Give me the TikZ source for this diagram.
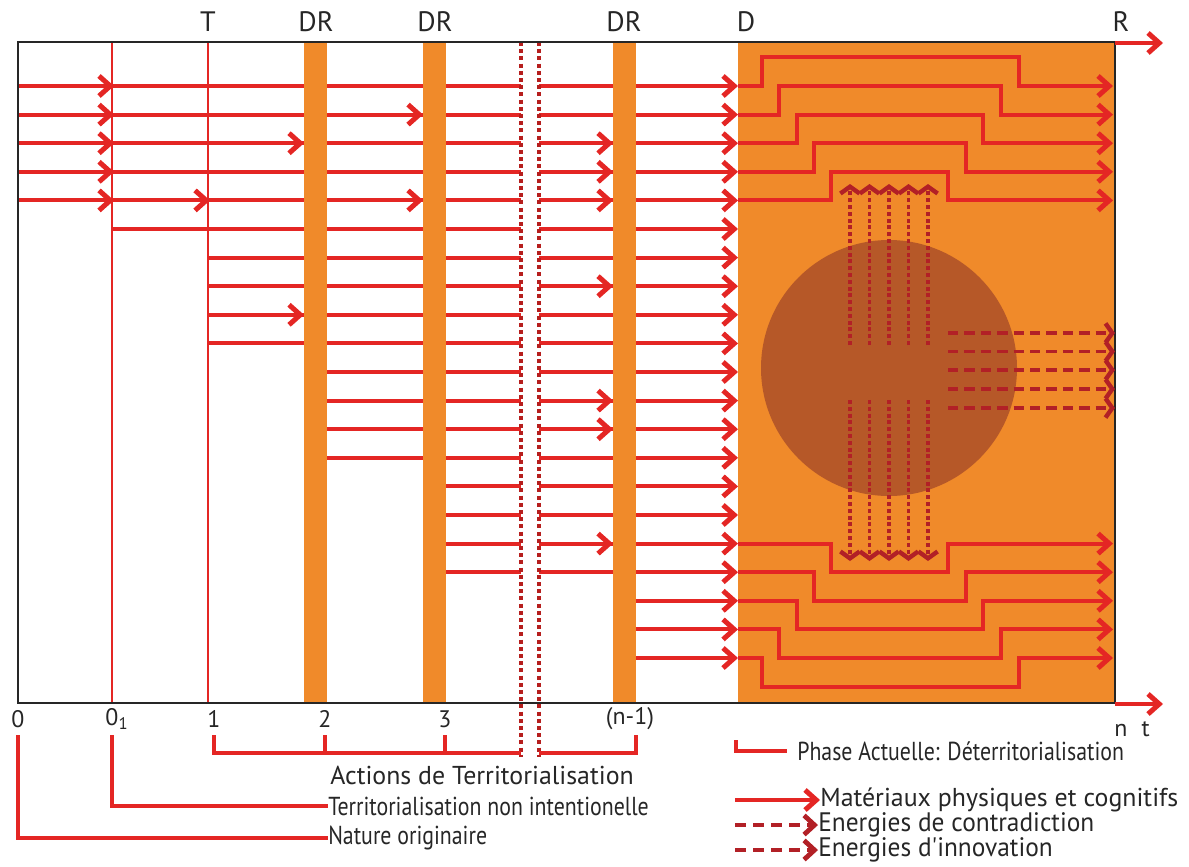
\documentclass[tikz,border=0pt]{standalone}
\usepackage{fontspec}
\setmainfont{PT Sans}
\newfontfamily\condfont{PT Sans}[FakeStretch=0.84]
\newfontfamily\legfont{PT Sans}[FakeStretch=0.95]
\usetikzlibrary{arrows.meta}
\definecolor{matred}{RGB}{228,38,36}
\definecolor{enered}{RGB}{178,32,38}
\definecolor{dorange}{RGB}{240,138,42}
\definecolor{circbrn}{RGB}{182,88,40}
\tikzset{
  mat/.style    ={matred, line width=2.8pt,
                  -{Straight Barb[length=2.8mm, width=5mm, line width=1.25mm]}},
  matln/.style  ={matred, line width=2.8pt},
  thinr/.style  ={matred, line width=1.2pt},
  frm/.style    ={black!85, line width=1.4pt},
  barr/.style   ={fill=dorange, draw=none},
  cutl/.style   ={matred!80!black, line width=2.5pt,
                  dash pattern=on 1mm off 0.8mm},
  contra/.style ={enered, line width=2.6pt, dash pattern=on 1mm off 0.7mm,
                  -{Straight Barb[length=1.7mm, width=4.8mm, line width=1.1mm]}},
  innov/.style  ={enered, line width=2.8pt, dash pattern=on 2.6mm off 1.5mm,
                  -{Straight Barb[length=1.7mm, width=4.8mm, line width=1.1mm]}},
  legd/.style   ={enered, line width=2.8pt, dash pattern=on 2.8mm off 1.7mm,
                  -{Straight Barb[length=2.6mm, width=4.8mm, line width=1.2mm]}},
  toplab/.style ={font=\fontsize{20}{22}\selectfont, text=black!85},
  axlab/.style  ={font=\fontsize{17}{19}\selectfont, text=black!85},
  note/.style   ={font=\fontsize{18.4}{20}\selectfont, text=black!85,
                  anchor=west, inner sep=0pt},
  cnote/.style  ={font=\condfont\fontsize{18.5}{20}\selectfont, text=black!85,
                  anchor=west, inner sep=0pt},
  bignote/.style={font=\legfont\fontsize{19}{21}\selectfont, text=black!85,
                  anchor=west, inner sep=0pt},
}

\begin{document}
\begin{tikzpicture}[x=0.25mm, y=-0.25mm]
  \useasboundingbox (0,0) rectangle (1189,866);
  \fill[dorange] (738,42) rectangle (1115,703);
  \fill[circbrn] (889,368) circle[radius=128];
  \foreach \r/\xs in {0/18,1/18,2/18,3/18,4/18,5/112,6/208,7/208,8/208,9/208,
                      10/327,11/327,12/327,13/327,14/446,15/446,16/446,17/446} {
    \draw[matln] (\xs,86+28.6*\r) -- (521,86+28.6*\r);
    \draw[mat] (539,86+28.6*\r) -- (738,86+28.6*\r);
  }
  \foreach \r in {18,19,20}
    \draw[mat] (636,86+28.6*\r) -- (738,86+28.6*\r);
  \foreach \xb in {304,423,613}
    \fill[barr] (\xb,42) rectangle +(23,661);
  \foreach \r/\xt in {0/114,1/114,2/114,3/114,4/114,4/210,1/423,4/423,2/304,
                      8/304,2/613,3/613,4/613,7/613,11/613,12/613,16/613}
    \draw[mat] (\xt-30,86+28.6*\r) -- (\xt,86+28.6*\r);
  \draw[thinr] (112,42) -- (112,703);
  \draw[thinr] (208,42) -- (208,703);
  \draw[cutl] (521,42) -- (521,757);
  \draw[cutl] (539,42) -- (539,757);
  \draw[frm] (18,42) rectangle (1115,703);
  \foreach \k in {0,...,4} {
    \draw[mat] (738,86+28.6*\k) -- (762+17.3*\k,86+28.6*\k)
      |- (1019-17.8*\k,57.4+28.6*\k) |- (1113,86+28.6*\k);
    \draw[mat] (738,658-28.6*\k) -- (762+17.3*\k,658-28.6*\k)
      |- (1019-17.8*\k,686.6-28.6*\k) |- (1113,658-28.6*\k);
  }
  \foreach \xe in {850,869.5,889,908.5,928} {
    \draw[contra] (\xe,345) -- (\xe,184);
    \draw[contra] (\xe,400) -- (\xe,561);
  }
  \foreach \ye in {333,351.5,370,389,408}
    \draw[innov] (948,\ye) -- (1115,\ye);
  \draw[mat] (1115,43) -- (1163,43);
  \draw[mat] (1115,704) -- (1163,704);

  \node[toplab] (lT)   at (208,22)  {T};
  \node[toplab] (ldr1) at (316,22)  {DR};
  \node[toplab] (ldr2) at (435,22)  {DR};
  \node[toplab] (ldr3) at (624,22)  {DR};
  \node[toplab] (lD)   at (746,22)  {D};
  \node[toplab] (lR)   at (1121,22) {R};

  \node[axlab] (n0)  at (18,719)  {0};
  \node[axlab] (n01) at (112,719) {0\rlap{\textsubscript{1}}};
  \node[axlab] (n1)  at (214,719) {1};
  \node[axlab] (n2)  at (325,719) {2};
  \node[axlab] (n3)  at (445,719) {3};
  \node[axlab] (nn1) at (630,719) {(n-1)};
  \node[axlab] (nt)  at (1132,729) {n\hspace{0.6em}t};

  \draw[matln] (214,735) -- (214,753) -- (521,753);
  \draw[matln] (325,735) -- (325,753);
  \draw[matln] (445,735) -- (445,753);
  \draw[matln] (539,753) -- (636,753) -- (636,735);
  \node[note, anchor=center] (acts) at (482,775) {Actions de Territorialisation};
  \node[cnote] (tnon) at (328,806) {Territorialisation non intentionelle};
  \node[cnote] (tnat) at (328,838) {Nature originaire};
  \draw[matln] (112,735) |- (tnon.west);
  \draw[matln] (18,735) |- (tnat.west);
  \node[cnote] (phase) at (797,751) {Phase Actuelle: Déterritorialisation};
  \draw[matln] (736,740) |- (787,751);

  \node[note]    (lmat) at (820,800) {Matériaux physiques et cognitifs};
  \node[bignote] (lcon) at (818,825) {Energies de contradiction};
  \node[bignote] (linn) at (818,850) {Energies d'innovation};
  \draw[mat]  (735,800) -- (lmat.west);
  \draw[legd] (735,825) -- (lcon.west);
  \draw[legd] (735,850) -- (linn.west);
\end{tikzpicture}
\end{document}
